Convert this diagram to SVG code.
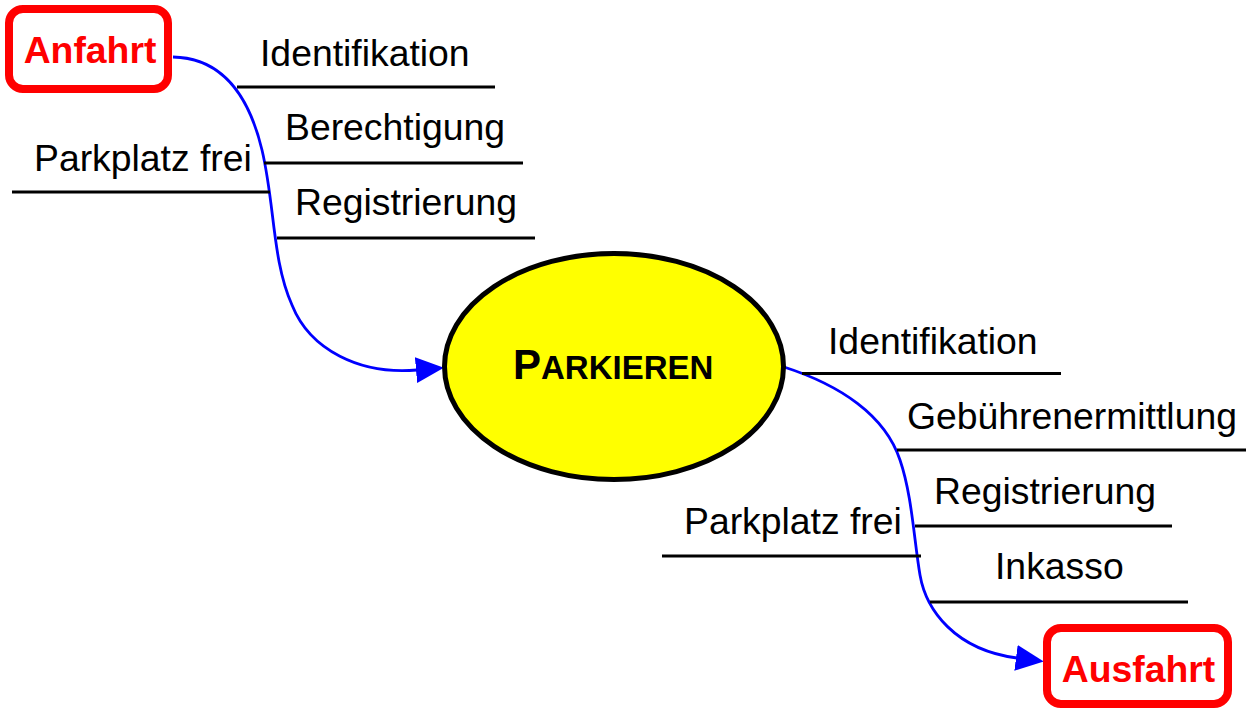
<svg xmlns="http://www.w3.org/2000/svg" width="1246" height="710" viewBox="0 0 1246 710">
<style>
.lbl{font-family:"Liberation Sans",Arial,sans-serif;font-size:37.33px;fill:#000}
.term{font-family:"Liberation Sans",Arial,sans-serif;font-size:37.33px;font-weight:bold;fill:#FF0000;text-anchor:middle}
.box{fill:#fff;stroke:#FF0000;stroke-width:8}
.ln{stroke:#000;stroke-width:3;fill:none}
.flow{stroke:#0000FF;stroke-width:2.8;fill:none;marker-end:url(#arr)}
</style>
<defs>
<marker id="arr" markerUnits="userSpaceOnUse" viewBox="0 0 28 26" refX="1" refY="13" markerWidth="28" markerHeight="26" orient="auto">
<path d="M0,0 L28,13 L0,26 z" fill="#0000FF"/>
</marker>
</defs>
<rect width="1246" height="710" fill="#fff"/>
<g id="connectors">
<path class="flow" d="M173,57 C225,58 250,100 262,150 C275,205 272,260 292,305 C310,350 360,375 417,370"/>
<path class="flow" d="M784,367 C840,385 885,415 900,460 C912,495 914,540 920,575 C926,610 955,650 1017,658"/>
</g>
<g id="branches-in">
<line class="ln" x1="237" y1="87" x2="495" y2="87"/>
<line class="ln" x1="264" y1="163" x2="523" y2="163"/>
<line class="ln" x1="12" y1="192" x2="270" y2="192"/>
<line class="ln" x1="277" y1="238" x2="535" y2="238"/>
<text class="lbl" x="260" y="66">Identifikation</text>
<text class="lbl" x="285" y="140">Berechtigung</text>
<text class="lbl" x="34" y="171">Parkplatz frei</text>
<text class="lbl" x="295" y="215">Registrierung</text>
</g>
<g id="branches-out">
<line class="ln" x1="802" y1="373.5" x2="1061" y2="373.5"/>
<line class="ln" x1="897" y1="450" x2="1246" y2="450"/>
<line class="ln" x1="915" y1="526" x2="1172" y2="526"/>
<line class="ln" x1="662" y1="556" x2="921" y2="556"/>
<line class="ln" x1="930" y1="602" x2="1188" y2="602"/>
<text class="lbl" x="828" y="354">Identifikation</text>
<text class="lbl" x="907" y="429">Gebührenermittlung</text>
<text class="lbl" x="934" y="504">Registrierung</text>
<text class="lbl" x="684" y="534">Parkplatz frei</text>
<text class="lbl" x="995" y="579">Inkasso</text>
</g>
<g id="anfahrt">
<rect class="box" x="9" y="9" width="159" height="80" rx="14"/>
<text class="term" x="90" y="63">Anfahrt</text>
</g>
<g id="parkieren">
<ellipse cx="614" cy="366.5" rx="169.5" ry="113" fill="#FFFF00" stroke="#000" stroke-width="5"/>
<text x="513" y="379" font-family="'Liberation Sans',Arial,sans-serif" font-weight="bold" fill="#000"><tspan font-size="42">P</tspan><tspan font-size="33">ARKIEREN</tspan></text>
</g>
<g id="ausfahrt">
<rect class="box" x="1047" y="628" width="181" height="76" rx="14"/>
<text class="term" x="1138.5" y="682">Ausfahrt</text>
</g>
</svg>
